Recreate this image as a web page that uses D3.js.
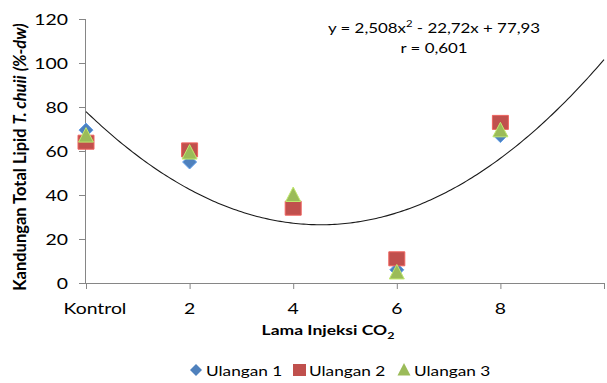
<!DOCTYPE html>
<html>
<head>
<meta charset="utf-8">
<script src="https://cdn.jsdelivr.net/npm/d3@7"></script>
<style>
  html, body { margin: 0; padding: 0; background: #fff; }
  svg { display: block; }
  text { font-family: Lato, "Open Sans", sans-serif; fill: #000; }
</style>
</head>
<body>
<svg id="chart" width="607" height="383"></svg>
<script>
// Injection duration (x positions) and their axis labels
const xValues = [0, 2, 4, 6, 8];
const xTickLabels = ["Kontrol", "2", "4", "6", "8"];
const yTicks = [0, 20, 40, 60, 80, 100, 120];

// Total lipid content (%-dw) per replicate
const ulangan1 = [69.5, 55, 36, 6, 67];
const ulangan2 = [64, 60.5, 34, 11, 73];
const ulangan3 = [67, 59.3, 40, 4.8, 69.4];

// Quadratic trendline coefficients: y = a x^2 + b x + c
const trendA = 2.508, trendB = -22.72, trendC = 77.93;
const seriesNames = ["Ulangan 1", "Ulangan 2", "Ulangan 3"];
const seriesColors = ["#4F81BD", "#C0504D", "#9BBB59"];

const svg = d3.select("#chart");
const SX = 1.25; // horizontal text stretch

const x = d3.scaleLinear().domain([0, 10]).range([86, 604]);
const y = d3.scaleLinear().domain([0, 120]).range([283, 19]);

// text helper with horizontal stretch
function label(g, px, py, str, opts = {}) {
  const t = g.append("text")
    .attr("transform", `translate(${px},${py}) scale(${SX},1)`)
    .attr("text-anchor", opts.anchor || "start")
    .style("font-size", (opts.size || 15.5) + "px")
    .style("font-weight", opts.weight || "normal");
  if (str != null) t.text(str);
  return t;
}

// Y axis
const yAxis = d3.axisLeft(y).tickValues(yTicks).tickSize(7).tickFormat("");
const gy = svg.append("g").attr("transform", "translate(86,0)").call(yAxis);
gy.select(".domain").attr("stroke", "#868686").attr("d", `M-0.5,${y(120)}V${y(0)}`);
gy.selectAll(".tick line").attr("stroke", "#868686");
yTicks.forEach(v => label(svg, 68, y(v) + 5.5, String(v), { anchor: "end" }));

// X axis
const xAxis = d3.axisBottom(x).tickValues([0, 2, 4, 6, 8, 10]).tickSize(6).tickFormat("");
const gx = svg.append("g").attr("transform", `translate(0,${y(0)})`).call(xAxis);
gx.select(".domain").attr("stroke", "#868686").attr("d", `M${x(0)},0.5H${x(10)}`);
gx.selectAll(".tick line").attr("stroke", "#868686");
xValues.forEach((v, i) => {
  const px = i === 0 ? x(v) + 9 : x(v);
  label(svg, px, 314, xTickLabels[i], { anchor: "middle" });
});

// Trendline
const curveXs = d3.range(0, 10.001, 0.05);
const line = d3.line()
  .x(d => x(d))
  .y(d => y(trendA * d * d + trendB * d + trendC));
svg.append("path")
  .attr("d", line(curveXs))
  .attr("fill", "none")
  .attr("stroke", "#1a1a1a")
  .attr("stroke-width", 1.1);

// Markers
function marker(g, cx, cy, si) {
  const color = seriesColors[si];
  let path;
  if (si === 0) {
    path = `M0,-7L7,0L0,7L-7,0Z`;
  } else if (si === 1) {
    path = `M-8,-7H8V7H-8Z`;
  } else {
    path = `M0,-8L7.5,6.5H-7.5Z`;
  }
  g.append("path")
    .attr("transform", `translate(${cx},${cy})`)
    .attr("d", path)
    .attr("fill", color)
    .attr("stroke", d3.color(color).brighter(0.6))
    .attr("stroke-width", 1);
}
const series = [ulangan1, ulangan2, ulangan3];
const gm = svg.append("g");
series.forEach((vals, si) => {
  vals.forEach((v, i) => marker(gm, x(xValues[i]), y(v), si));
});

// Axis titles
const xt = label(svg, 328, 335, null, { anchor: "middle", weight: "bold", size: 14 });
xt.append("tspan").text("Lama Injeksi CO");
xt.append("tspan").attr("dy", 4).style("font-size", "10px").text("2");

const yt = svg.append("text")
  .attr("transform", `translate(26,157) rotate(-90) scale(1,1.05)`)
  .attr("text-anchor", "middle")
  .style("font-size", "16.5px")
  .style("font-weight", "bold");
yt.append("tspan").text("Kandungan Total Lipid ");
yt.append("tspan").style("font-style", "italic").text("T. chuii");
yt.append("tspan").text(" ");
yt.append("tspan").style("font-style", "italic").text("(%-dw)");

// Equation
const eq = label(svg, 434, 33, null, { anchor: "middle", size: 13.5 });
eq.append("tspan").text("y = 2,508x");
eq.append("tspan").attr("dy", -6).style("font-size", "9px").text("2");
eq.append("tspan").attr("dy", 6).text(" - 22,72x + 77,93");
label(svg, 434, 53, "r = 0,601", { anchor: "middle", size: 13.5 });

// Legend
const legendX = [196, 299, 404];
seriesNames.forEach((name, i) => {
  const g = svg.append("g");
  const cy = 370;
  if (i === 0) g.append("path").attr("d", `M${legendX[i]},${cy - 6}l6,6l-6,6l-6,-6Z`).attr("fill", seriesColors[i]);
  if (i === 1) g.append("rect").attr("x", legendX[i] - 6).attr("y", cy - 6).attr("width", 13).attr("height", 12).attr("fill", seriesColors[i]);
  if (i === 2) g.append("path").attr("d", `M${legendX[i]},${cy - 7}l6.5,12.5h-13Z`).attr("fill", seriesColors[i]);
  label(svg, legendX[i] + 10, 375.5, name, { anchor: "start", size: 13.8 });
});
</script>
</body>
</html>
